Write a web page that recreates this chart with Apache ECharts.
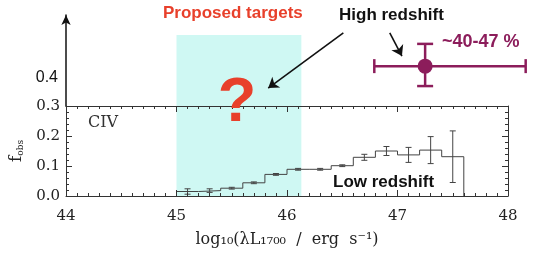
<!DOCTYPE html>
<html lang="en">
<head>
<meta charset="UTF-8" />
<title>CIV f_obs</title>
<style>html,body{margin:0;padding:0;background:#fff}</style>
</head>
<body>
<div id="main" style="width:537px;height:253px"></div>
<script src="https://cdn.jsdelivr.net/npm/echarts@6/dist/echarts.min.js"></script>
<script>
// low redshift histogram, 0.2 dex bins
const binEdges = [45.0, 45.2, 45.4, 45.6, 45.8, 46.0, 46.2, 46.4, 46.6, 46.8, 47.0, 47.2, 47.4, 47.6]
const binCenters = [45.1, 45.3, 45.5, 45.7, 45.9, 46.1, 46.3, 46.5, 46.7, 46.9, 47.1, 47.3, 47.5]
const fObs = [0.015, 0.018, 0.026, 0.044, 0.072, 0.089, 0.089, 0.101, 0.129, 0.150, 0.137, 0.153, 0.131]
const fErr = [0.009, 0.006, 0.003, 0.003, 0.003, 0.003, 0.003, 0.003, 0.010, 0.015, 0.025, 0.045, 0.086]

// high redshift point (schematic, upper panel)
const highPoint = [47.25, 0.438]
const highXRange = [46.79, 48.16]
const highYRange = [0.369, 0.515]

// proposed target luminosity range
const proposedRange = [45.0, 46.13]
const proposedTop = 0.546

// annotation arrows in upper panel coords: [from, to]
const arrows = [
  [[46.51, 0.553], [45.83, 0.362]],
  [[46.93, 0.553], [47.04, 0.473]]
]

const chart = echarts.init(document.getElementById('main'))

const stepData = [[binEdges[0], 0]]
fObs.forEach((v, i) => stepData.push([binEdges[i], v]))
stepData.push([binEdges[binEdges.length - 1], 0])

const errData = binCenters.map((x, i) => [x, fObs[i], fErr[i]])

const axisColor = '#333'
const serif = 'DejaVu Serif'
const purple = '#8C1D5B'
const red = '#E8402B'

const tickStyle = { color: axisColor, width: 1 }
// ticks pointing into the box (negative length on outside ticks)
const majorTick = { show: true, inside: false, length: -6, lineStyle: tickStyle }
const xMinor = { show: true, splitNumber: 10, length: -3, lineStyle: tickStyle }
const yMinor = { show: true, splitNumber: 5, length: -3, lineStyle: tickStyle }

const option = {
  animation: false,
  backgroundColor: '#fff',
  grid: [
    { left: 66, right: 29, top: 106, height: 90 },
    { left: 66, right: 29, top: 15, height: 91 }
  ],
  xAxis: [
    {
      gridIndex: 0, type: 'value', position: 'bottom', z: 5,
      min: 44, max: 48, interval: 1,
      axisLine: { show: true, onZero: false, lineStyle: tickStyle },
      axisTick: majorTick,
      minorTick: xMinor,
      splitLine: { show: false },
      axisLabel: { fontFamily: serif, fontSize: 15, color: '#222', margin: 13 },
      name: 'log₁₀(λL₁₇₀₀  /  erg  s⁻¹)',
      nameLocation: 'middle',
      nameGap: 36,
      nameTextStyle: { fontFamily: serif, fontSize: 16, color: '#222' }
    },
    {
      gridIndex: 0, type: 'value', position: 'top', z: 5,
      min: 44, max: 48, interval: 1,
      axisLine: { show: true, onZero: false, lineStyle: tickStyle },
      axisTick: majorTick,
      minorTick: xMinor,
      splitLine: { show: false },
      axisLabel: { show: false }
    },
    { gridIndex: 1, type: 'value', min: 44, max: 48, show: false }
  ],
  yAxis: [
    {
      gridIndex: 0, type: 'value', position: 'left', z: 5,
      min: 0, max: 0.3, interval: 0.1,
      axisLine: { show: true, onZero: false, lineStyle: tickStyle },
      axisTick: majorTick,
      minorTick: yMinor,
      splitLine: { show: false },
      axisLabel: { fontFamily: serif, fontSize: 15, color: '#222', margin: 6, formatter: v => v.toFixed(1) },
      name: '{f|f}{s|obs}',
      nameLocation: 'middle',
      nameRotate: 90,
      nameGap: 35,
      nameTextStyle: {
        rich: {
          f: { fontFamily: serif, fontSize: 17, color: '#222' },
          s: { fontFamily: serif, fontSize: 9, color: '#222', verticalAlign: 'bottom' }
        }
      }
    },
    {
      gridIndex: 0, type: 'value', position: 'right', z: 5,
      min: 0, max: 0.3, interval: 0.1,
      axisLine: { show: true, onZero: false, lineStyle: tickStyle },
      axisTick: majorTick,
      minorTick: yMinor,
      splitLine: { show: false },
      axisLabel: { show: false }
    },
    {
      gridIndex: 1, type: 'value', position: 'left',
      min: 0.3, max: 0.615, interval: 0.1,
      axisLine: { show: true, onZero: false, symbol: ['none', 'arrow'], symbolSize: [7, 10], lineStyle: { color: '#111', width: 1.5 } },
      axisTick: { show: false },
      splitLine: { show: false },
      axisLabel: {
        fontFamily: 'Liberation Sans', fontSize: 16, color: '#111', margin: 8,
        formatter: v => (Math.abs(v - 0.4) < 1e-6 ? '0.4' : '')
      }
    }
  ],
  series: [
    // shaded proposed range, lower panel
    {
      type: 'line', xAxisIndex: 0, yAxisIndex: 0, data: [], z: 0,
      markArea: {
        silent: true,
        z: 0,
        itemStyle: { color: '#CFF8F3' },
        data: [[{ xAxis: proposedRange[0], yAxis: 0 }, { xAxis: proposedRange[1], yAxis: 0.3 }]]
      }
    },
    // shaded proposed range, upper panel
    {
      type: 'line', xAxisIndex: 2, yAxisIndex: 2, data: [], z: 0,
      markArea: {
        silent: true,
        z: 0,
        itemStyle: { color: '#CFF8F3' },
        data: [[{ xAxis: proposedRange[0], yAxis: 0.3 }, { xAxis: proposedRange[1], yAxis: proposedTop }]]
      }
    },
    {
      type: 'line', xAxisIndex: 2, yAxisIndex: 2, data: [], z: 6,
      markLine: {
        silent: true,
        symbol: ['none', 'arrow'],
        symbolSize: 10,
        label: { show: false },
        lineStyle: { color: '#111', width: 1.6, type: 'solid' },
        data: arrows.map(a => [{ coord: a[0] }, { coord: a[1] }])
      }
    },
    {
      type: 'line', xAxisIndex: 0, yAxisIndex: 0,
      step: 'end',
      data: stepData,
      symbol: 'none',
      lineStyle: { color: '#444', width: 1 },
      z: 3
    },
    {
      type: 'custom', xAxisIndex: 0, yAxisIndex: 0,
      data: errData,
      z: 4,
      renderItem: function (params, api) {
        const x = api.value(0), y = api.value(1), e = api.value(2)
        const lo = api.coord([x, y - e])
        const hi = api.coord([x, y + e])
        const s = { stroke: '#444', lineWidth: 1 }
        return {
          type: 'group',
          children: [
            { type: 'line', shape: { x1: lo[0], y1: lo[1], x2: hi[0], y2: hi[1] }, style: s },
            { type: 'line', shape: { x1: lo[0] - 3, y1: lo[1], x2: lo[0] + 3, y2: lo[1] }, style: s },
            { type: 'line', shape: { x1: hi[0] - 3, y1: hi[1], x2: hi[0] + 3, y2: hi[1] }, style: s }
          ]
        }
      }
    },
    {
      type: 'custom', xAxisIndex: 2, yAxisIndex: 2,
      clip: false,
      z: 5,
      data: [[highPoint[0], highPoint[1], highXRange[0], highXRange[1], highYRange[0], highYRange[1]]],
      renderItem: function (params, api) {
        const c = api.coord([api.value(0), api.value(1)])
        const xl = api.coord([api.value(2), api.value(1)])
        const xh = api.coord([api.value(3), api.value(1)])
        const yl = api.coord([api.value(0), api.value(4)])
        const yh = api.coord([api.value(0), api.value(5)])
        const s = { stroke: purple, lineWidth: 2.5 }
        return {
          type: 'group',
          children: [
            { type: 'line', shape: { x1: xl[0], y1: xl[1], x2: xh[0], y2: xh[1] }, style: s },
            { type: 'line', shape: { x1: xl[0], y1: xl[1] - 7, x2: xl[0], y2: xl[1] + 7 }, style: s },
            { type: 'line', shape: { x1: xh[0], y1: xh[1] - 7, x2: xh[0], y2: xh[1] + 7 }, style: s },
            { type: 'line', shape: { x1: yl[0], y1: yl[1], x2: yh[0], y2: yh[1] }, style: s },
            { type: 'line', shape: { x1: yl[0] - 8, y1: yl[1], x2: yl[0] + 8, y2: yl[1] }, style: s },
            { type: 'line', shape: { x1: yh[0] - 8, y1: yh[1], x2: yh[0] + 8, y2: yh[1] }, style: s },
            { type: 'circle', shape: { cx: c[0], cy: c[1], r: 7.5 }, style: { fill: purple } }
          ]
        }
      }
    }
  ],
  graphic: [
    { type: 'text', x: 163, y: 13, z: 100, style: { text: 'Proposed targets', fill: red, font: 'bold 17px "Liberation Sans"', verticalAlign: 'middle' } },
    { type: 'text', x: 339, y: 15, z: 100, style: { text: 'High redshift', fill: '#111', font: 'bold 17px "Liberation Sans"', verticalAlign: 'middle' } },
    { type: 'text', x: 442, y: 42, z: 100, style: { text: '~40-47 %', fill: purple, font: 'bold 18px "Liberation Sans"', verticalAlign: 'middle' } },
    { type: 'text', x: 237, y: 104, z: 100, style: { text: '?', fill: red, font: 'bold 63px "Liberation Sans"', align: 'center', verticalAlign: 'middle' } },
    { type: 'text', x: 88, y: 123, z: 100, style: { text: 'CIV', fill: '#333', font: '16px "DejaVu Serif"', verticalAlign: 'middle' } },
    { type: 'text', x: 333, y: 182, z: 100, style: { text: 'Low redshift', fill: '#111', font: 'bold 17px "Liberation Sans"', verticalAlign: 'middle' } }
  ]
}

chart.setOption(option)
</script>
</body>
</html>
